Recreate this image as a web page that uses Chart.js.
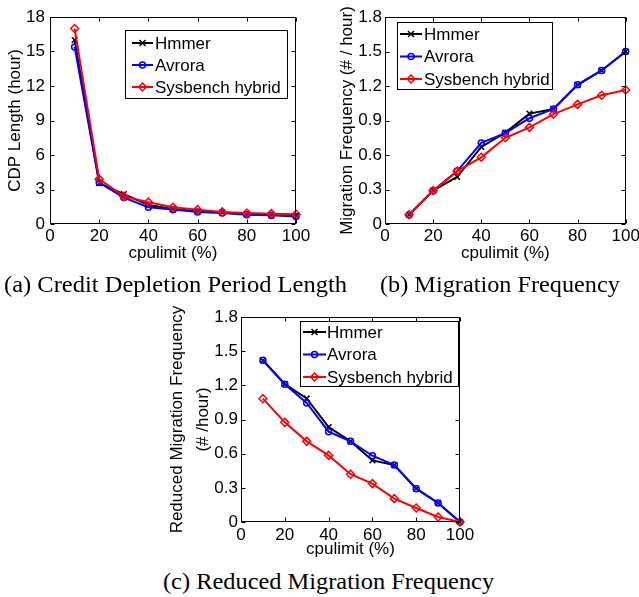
<!DOCTYPE html>
<html><head><meta charset="utf-8">
<script src="https://cdn.jsdelivr.net/npm/chart.js@4"></script>
<style>
html,body{margin:0;padding:0;width:639px;height:597px;overflow:hidden;background:#fff;position:relative;}
canvas{position:absolute;}
.cap{position:absolute;font-family:"Liberation Serif","Times New Roman",serif;font-size:24px;line-height:24px;color:#000;white-space:nowrap;transform-origin:left top;}
</style></head><body>
<canvas id="ca" width="330" height="275" style="left:0;top:0"></canvas>
<canvas id="cb" width="340" height="275" style="left:320px;top:0"></canvas>
<canvas id="cc" width="330" height="262" style="left:160px;top:300px"></canvas>
<div class="cap" id="capa" style="left:4px;top:272px">(a) Credit Depletion Period Length</div>
<div class="cap" id="capb" style="left:380px;top:272px">(b) Migration Frequency</div>
<div class="cap" id="capc" style="left:163px;top:569px">(c) Reduced Migration Frequency</div>
<script>
// ---- data ----
const cpulimit = [10, 20, 30, 40, 50, 60, 70, 80, 90, 100];
const seriesNames = ['Hmmer', 'Avrora', 'Sysbench hybrid'];
const xTickStep = 20;

const cdpHmmer    = [16.0, 3.55, 2.6, 1.65, 1.3, 1.1, 1.0, 0.85, 0.8, 0.7];
const cdpAvrora   = [15.4, 3.6, 2.3, 1.45, 1.25, 1.05, 0.95, 0.8, 0.75, 0.65];
const cdpSysbench = [17.0, 3.9, 2.4, 1.9, 1.45, 1.25, 1.05, 0.95, 0.9, 0.85];
const cdpMax = 18, cdpTickStep = 3;

const migHmmer    = [0.08, 0.29, 0.41, 0.67, 0.795, 0.96, 1.0, 1.21, 1.335, 1.5];
const migAvrora   = [0.08, 0.29, 0.46, 0.705, 0.79, 0.92, 1.0, 1.21, 1.335, 1.5];
const migSysbench = [0.08, 0.29, 0.46, 0.58, 0.75, 0.84, 0.955, 1.04, 1.12, 1.165];

const redHmmer    = [1.42, 1.21, 1.085, 0.834, 0.708, 0.541, 0.5, 0.293, 0.167, 0];
const redAvrora   = [1.42, 1.21, 1.045, 0.793, 0.708, 0.582, 0.5, 0.293, 0.167, 0];
const redSysbench = [1.083, 0.875, 0.708, 0.585, 0.42, 0.337, 0.205, 0.123, 0.044, 0];
const freqMax = 1.8, freqTickStep = 0.3;

// ---- styles ----
const FONT = 'Liberation Sans, Arial, sans-serif';
const seriesStyle = [
  {color: '#000000', pointStyle: 'crossRot', radius: 4, order: 2},
  {color: '#0000ff', pointStyle: 'circle', radius: 3, order: 1},
  {color: '#ff0000', pointStyle: 'rectRot', radius: 4, order: 0}
];

function drawMarker(ctx, style, x, y, r) {
  ctx.beginPath();
  if (style === 'circle') {
    ctx.arc(x, y, r, 0, Math.PI * 2);
  } else if (style === 'rectRot') {
    ctx.moveTo(x, y - r); ctx.lineTo(x + r, y); ctx.lineTo(x, y + r); ctx.lineTo(x - r, y); ctx.closePath();
  } else {
    const d = r * 0.75;
    ctx.moveTo(x - d, y - d); ctx.lineTo(x + d, y + d);
    ctx.moveTo(x + d, y - d); ctx.lineTo(x - d, y + d);
  }
  ctx.stroke();
}

const framePlugin = {
  id: 'frame',
  afterDatasetsDraw(chart) {
    const {ctx, chartArea: a, scales} = chart;
    const L = Math.round(a.left) + 0.5, R = Math.round(a.right) - 0.5;
    const T = Math.round(a.top) + 0.5, B = Math.round(a.bottom) - 0.5;
    ctx.save();
    ctx.strokeStyle = '#000'; ctx.lineWidth = 1;
    ctx.strokeRect(L, T, R - L, B - T);
    const tl = 4;
    ctx.beginPath();
    scales.x.ticks.forEach(t => {
      const px = Math.round(scales.x.getPixelForValue(t.value)) + 0.5;
      ctx.moveTo(px, B); ctx.lineTo(px, B - tl);
      ctx.moveTo(px, T); ctx.lineTo(px, T + tl);
    });
    scales.y.ticks.forEach(t => {
      const py = Math.round(scales.y.getPixelForValue(t.value)) + 0.5;
      ctx.moveTo(L, py); ctx.lineTo(L + tl, py);
      ctx.moveTo(R, py); ctx.lineTo(R - tl, py);
    });
    ctx.stroke();
    ctx.restore();
  }
};

const legendPlugin = {
  id: 'boxLegend',
  afterDraw(chart, args, o) {
    const ctx = chart.ctx;
    ctx.save();
    ctx.fillStyle = '#fff';
    ctx.fillRect(o.x, o.y, o.w, o.h);
    ctx.strokeStyle = '#000'; ctx.lineWidth = 1;
    ctx.strokeRect(o.x + 0.5, o.y + 0.5, o.w, o.h);
    ctx.font = '17px ' + FONT;
    ctx.textBaseline = 'middle'; ctx.textAlign = 'left';
    chart.data.datasets.forEach((ds, i) => {
      const yy = o.y + o.row0 + i * o.step;
      ctx.strokeStyle = ds.borderColor; ctx.lineWidth = 2;
      ctx.beginPath(); ctx.moveTo(o.x + o.l0, yy); ctx.lineTo(o.x + o.l1, yy); ctx.stroke();
      ctx.lineWidth = 1.5;
      drawMarker(ctx, ds.pointStyle, o.x + (o.l0 + o.l1) / 2, yy, ds.pointRadius);
      ctx.fillStyle = '#000';
      ctx.fillText(ds.label, o.x + o.tx, yy + 1);
    });
    ctx.restore();
  }
};

function makeChart(id, c) {
  const series = [c.s0, c.s1, c.s2];
  return new Chart(document.getElementById(id), {
    type: 'line',
    data: {
      datasets: series.map((arr, i) => ({
        label: seriesNames[i],
        data: cpulimit.map((x, j) => ({x: x, y: arr[j]})),
        borderColor: seriesStyle[i].color,
        backgroundColor: seriesStyle[i].color,
        borderWidth: 2,
        pointStyle: seriesStyle[i].pointStyle,
        pointRadius: seriesStyle[i].radius,
        pointBorderWidth: 1.5,
        pointBorderColor: seriesStyle[i].color,
        pointBackgroundColor: 'rgba(0,0,0,0)',
        order: seriesStyle[i].order,
        clip: false,
        tension: 0
      }))
    },
    options: {
      responsive: false,
      animation: false,
      events: [],
      layout: {padding: c.pad},
      plugins: {legend: {display: false}, tooltip: {enabled: false}, boxLegend: c.legend},
      scales: {
        x: {
          type: 'linear', min: 0, max: 100,
          grid: {display: false, drawTicks: false},
          border: {display: false},
          ticks: {stepSize: xTickStep, autoSkip: false, maxRotation: 0, padding: c.xTickPad,
                  color: '#000', font: {family: FONT, size: 17}},
          title: {display: true, text: 'cpulimit (%)', color: '#000',
                  font: {family: FONT, size: 17, lineHeight: 1.2}, padding: {top: 0, bottom: c.xTitlePad}},
          afterFit: s => { s.height = c.xH; }
        },
        y: {
          type: 'linear', min: 0, max: c.yMax,
          grid: {display: false, drawTicks: false},
          border: {display: false},
          ticks: {stepSize: c.yStep, autoSkip: false, padding: c.yTickPad,
                  color: '#000', font: {family: FONT, size: 17},
                  callback: v => v === 0 ? '0' : (c.yStep < 1 ? v.toFixed(1) : String(v))},
          title: {display: true, text: c.yTitle, color: '#000',
                  font: {family: FONT, size: 17, lineHeight: c.yTitleLH}, padding: {top: c.yTitlePad, bottom: 0}},
          afterFit: s => { s.width = c.yW; }
        }
      }
    },
    plugins: [framePlugin, legendPlugin]
  });
}

makeChart('ca', {
  s0: cdpHmmer, s1: cdpAvrora, s2: cdpSysbench,
  yMax: cdpMax, yStep: cdpTickStep, yTitle: 'CDP Length (hour)', yTitleLH: 1.2, yTitlePad: 5,
  yW: 50, yTickPad: 5, xH: 51, xTickPad: 2, xTitlePad: 11,
  pad: {left: 0, top: 17, right: 34, bottom: 0},
  legend: {x: 125, y: 30, w: 162, h: 68, row0: 13, step: 22, l0: 7, l1: 28, tx: 30}
});
makeChart('cb', {
  s0: migHmmer, s1: migAvrora, s2: migSysbench,
  yMax: freqMax, yStep: freqTickStep, yTitle: 'Migration Frequency (# / hour)', yTitleLH: 1.2, yTitlePad: 17,
  yW: 65, yTickPad: 3, xH: 51, xTickPad: 2, xTitlePad: 11,
  pad: {left: 0, top: 17, right: 34.3, bottom: 0},
  legend: {x: 77, y: 22, w: 155, h: 67, row0: 12, step: 22.5, l0: 3, l1: 25, tx: 27}
});
makeChart('cc', {
  s0: redHmmer, s1: redAvrora, s2: redSysbench,
  yMax: freqMax, yStep: freqTickStep, yTitle: ['Reduced Migration Frequency', '(# /hour)'], yTitleLH: 1.53, yTitlePad: 4.5,
  yW: 81, yTickPad: 3, xH: 40, xTickPad: 3.5, xTitlePad: 2.5,
  pad: {left: 0, top: 17, right: 30, bottom: 0},
  legend: {x: 140, y: 21, w: 158, h: 65, row0: 11, step: 22.5, l0: 3, l1: 26, tx: 27}
});

// fit captions to their measured widths in the reference
[['capa', 343], ['capb', 240], ['capc', 331]].forEach(([id, w]) => {
  const el = document.getElementById(id);
  const s = w / el.getBoundingClientRect().width;
  el.style.transform = 'scaleX(' + s.toFixed(3) + ')';
});
</script>
</body></html>
